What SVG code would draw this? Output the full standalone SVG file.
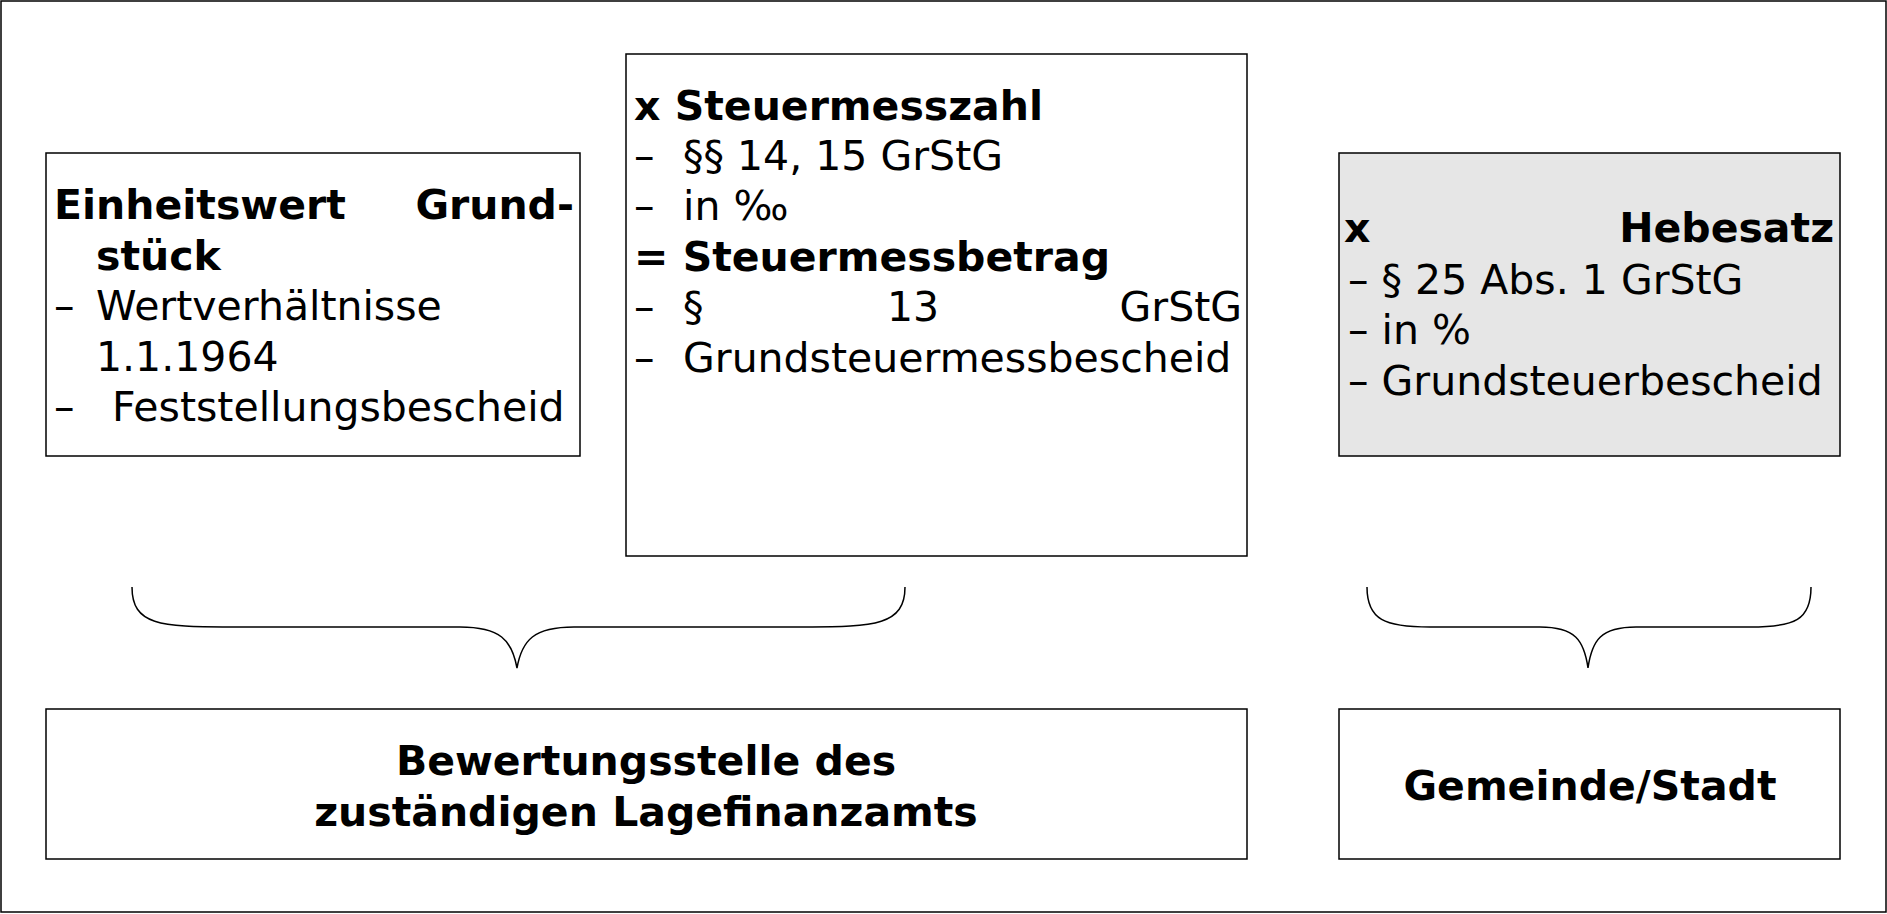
<svg xmlns="http://www.w3.org/2000/svg" width="1887" height="914" viewBox="0 0 1887 914">
<style>
rect{stroke:#000;stroke-width:1.5;fill:#fff}
text{font-family:"DejaVu Sans",Verdana,sans-serif;font-size:41px;fill:#000}
.b{font-weight:bold}
.m{text-anchor:middle}
.e{text-anchor:end}
path{fill:none;stroke:#000;stroke-width:1.5}
</style>
<rect x="1" y="1" width="1885" height="911" stroke-width="2"/>
<g id="einheitswert">
<rect x="46" y="153" width="534" height="303"/>
<text class="b" x="54" y="219">Einheitswert</text><text class="b e" x="574" y="219">Grund-</text>
<text class="b" x="96" y="270">stück</text>
<text x="54" y="320">–</text><text x="96" y="320">Wertverhältnisse</text>
<text x="96" y="371">1.1.1964</text>
<text x="54" y="421">–</text><text x="112" y="421">Feststellungsbescheid</text>
</g>
<g id="steuermesszahl">
<rect x="626" y="54" width="621" height="502"/>
<text class="b" x="634" y="120">x Steuermesszahl</text>
<text x="634" y="170">–</text><text x="683" y="170">§§ 14, 15 GrStG</text>
<text x="634" y="220">–</text><text x="683" y="220">in ‰</text>
<text class="b" x="634" y="271">= Steuermessbetrag</text>
<text x="634" y="321">–</text><text x="683" y="321">§</text><text x="887" y="321">13</text><text class="e" x="1242" y="321">GrStG</text>
<text x="634" y="372">–</text><text x="683" y="372">Grundsteuermessbescheid</text>
</g>
<g id="hebesatz">
<rect x="1339" y="153" width="501" height="303" style="fill:#e6e6e6"/>
<text class="b" x="1344" y="242">x</text><text class="b e" x="1834" y="242">Hebesatz</text>
<text x="1348" y="294">– § 25 Abs. 1 GrStG</text>
<text x="1348" y="344">– in %</text>
<text x="1348" y="395">– Grundsteuerbescheid</text>
</g>
<g id="bewertungsstelle">
<rect x="46" y="709" width="1201" height="150"/>
<text class="b m" x="646" y="775">Bewertungsstelle des</text>
<text class="b m" x="646" y="826">zuständigen Lagefinanzamts</text>
</g>
<g id="gemeinde">
<rect x="1339" y="709" width="501" height="150"/>
<text class="b m" x="1590" y="800">Gemeinde/Stadt</text>
</g>
<g id="connectors">
<path d="M132 587 C132 625 160 627 230 627 L460 627 C500 627 512 640 517 668 C522 640 534 627 574 627 L805 627 C875 627 905 625 905 587"/>
<path d="M1367 587 C1367 620 1385 627 1430 627 L1540 627 C1575 627 1584 640 1588 668 C1592 640 1601 627 1636 627 L1750 627 C1795 627 1811 620 1811 587"/>
</g>
</svg>
